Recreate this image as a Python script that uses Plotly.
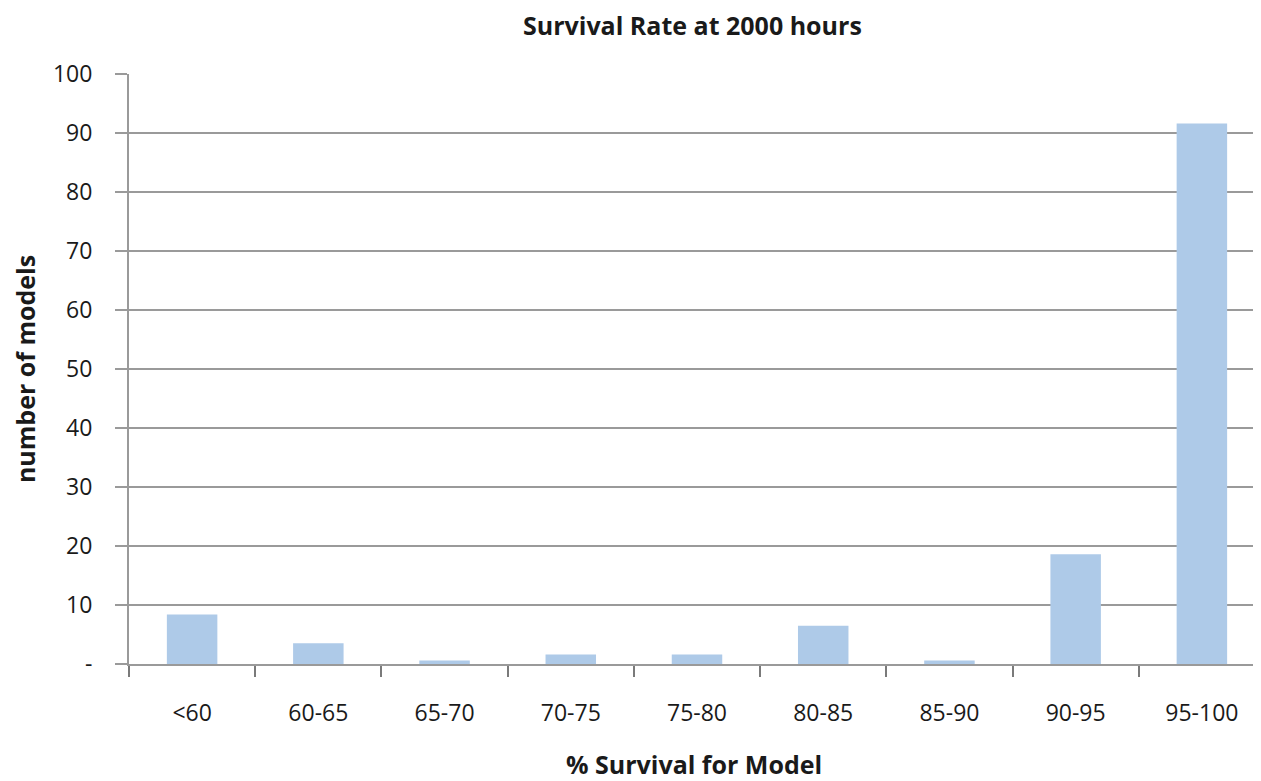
import plotly.graph_objects as go

categories = ['<60', '60-65', '65-70', '70-75', '75-80', '80-85', '85-90', '90-95', '95-100']
models = [8.4, 3.5, 0.6, 1.6, 1.6, 6.5, 0.6, 18.6, 91.6]

y_ticks = [0, 10, 20, 30, 40, 50, 60, 70, 80, 90, 100]
y_tick_text = ['-', '10', '20', '30', '40', '50', '60', '70', '80', '90', '100']

grid = '#9a9a9a'
font_name = 'Open Sans, sans-serif'

fig = go.Figure()

fig.add_trace(go.Bar(
    x=categories,
    y=models,
    marker=dict(color='#aecae8', line=dict(width=0)),
))

# page has an 8px body margin; the plot area runs slightly past the right edge like the original
fig.update_layout(
    width=1257,
    height=773,
    margin=dict(l=121, r=0, t=66, b=116.5),
    plot_bgcolor='white',
    paper_bgcolor='white',
    bargap=0.6,
    showlegend=False,
    font=dict(family=font_name, size=23, color='#1a1a1a'),
)

fig.update_xaxes(
    type='category',
    automargin=False,
    showline=True, linecolor=grid, linewidth=2,
    showgrid=False,
    ticks='outside', tickson='boundaries', ticklen=11, tickcolor='#7a7a7a', tickwidth=2,
    ticklabelstandoff=27,
)

fig.update_yaxes(
    range=[0, 100],
    automargin=False,
    tickvals=y_ticks, ticktext=y_tick_text,
    showline=True, linecolor=grid, linewidth=2,
    showgrid=True, gridcolor=grid, gridwidth=1.5,
    zeroline=False,
    ticks='outside', ticklen=12, tickcolor=grid, tickwidth=1.5,
    ticklabelstandoff=18,
)

fig.add_annotation(
    text='<b>Survival Rate at 2000 hours</b>',
    xref='paper', yref='paper', x=0.496, y=1.083,
    xanchor='center', yanchor='middle', showarrow=False,
    font=dict(size=25),
)
fig.add_annotation(
    text='<b>% Survival for Model</b>',
    xref='paper', yref='paper', x=0.4975, y=-0.17,
    xanchor='center', yanchor='middle', showarrow=False,
    font=dict(size=25),
)
fig.add_annotation(
    text='<b>number of models</b>',
    xref='paper', yref='paper', x=-0.0915, y=0.5,
    xanchor='center', yanchor='middle', showarrow=False,
    textangle=-90, font=dict(size=25),
)

fig.write_html('out.html')
